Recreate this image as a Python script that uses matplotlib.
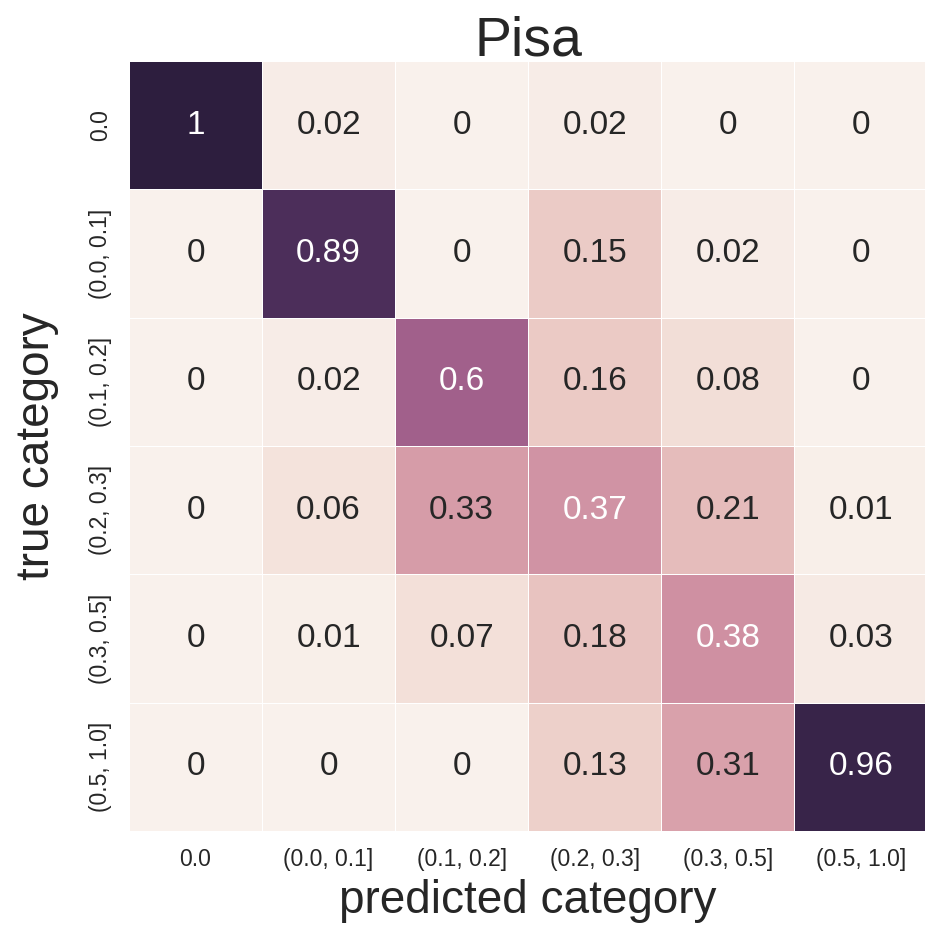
import matplotlib
matplotlib.use('Agg')
import matplotlib.pyplot as plt
import numpy as np
import seaborn as sns

sns.set_style('white')
plt.rcParams['font.family'] = ['Liberation Sans', 'DejaVu Sans']

categories = ['0.0', '(0.0, 0.1]', '(0.1, 0.2]', '(0.2, 0.3]', '(0.3, 0.5]', '(0.5, 1.0]']

# rows: true category, columns: predicted category (column-normalised)
row_00 = [1, 0.02, 0, 0.02, 0, 0]
row_01 = [0, 0.89, 0, 0.15, 0.02, 0]
row_12 = [0, 0.02, 0.6, 0.16, 0.08, 0]
row_23 = [0, 0.06, 0.33, 0.37, 0.21, 0.01]
row_35 = [0, 0.01, 0.07, 0.18, 0.38, 0.03]
row_51 = [0, 0, 0, 0.13, 0.31, 0.96]

conf = np.array([row_00, row_01, row_12, row_23, row_35, row_51])

fig = plt.figure(figsize=(9.25, 9.25), dpi=100)
ax = fig.add_axes([0.1395, 0.1016, 0.863, 0.8324])

cmap = sns.cubehelix_palette(light=0.95, as_cmap=True)
sns.heatmap(conf, ax=ax, cmap=cmap, vmin=0, vmax=1, annot=True, fmt='.2g',
            annot_kws={'fontsize': 24}, linewidths=0.5, linecolor='white',
            cbar=False, xticklabels=categories, yticklabels=categories)

ax.set_title('Pisa', fontsize=40, color='#262626', pad=4)
ax.set_xlabel('predicted category', fontsize=33, color='#262626', labelpad=6)
ax.set_ylabel('true category', fontsize=33, color='#262626', labelpad=22)
ax.tick_params(axis='both', length=0, labelsize=16.5, labelcolor='#262626', pad=12)
plt.setp(ax.get_yticklabels(), rotation=90, va='center')
plt.setp(ax.get_xticklabels(), rotation=0)

fig.savefig('out.png', dpi=100)
